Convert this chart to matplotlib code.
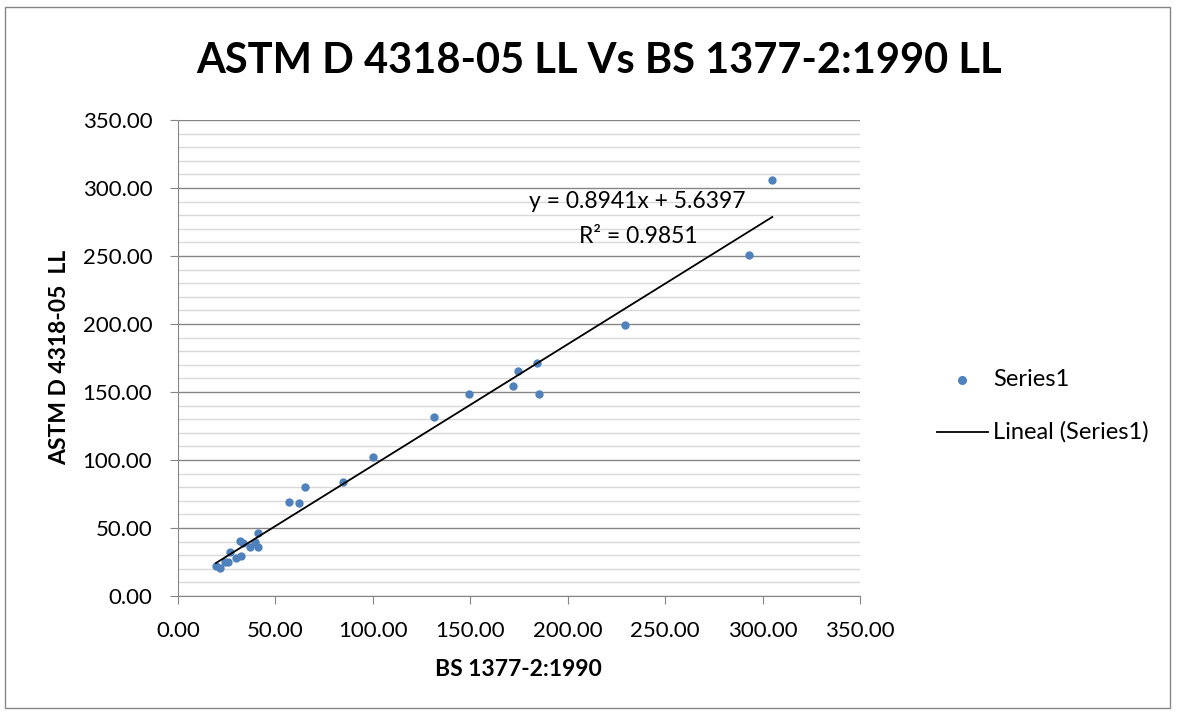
import numpy as np
import matplotlib
matplotlib.use("Agg")
import matplotlib.pyplot as plt
from matplotlib.patches import Rectangle
from matplotlib.lines import Line2D
from matplotlib.ticker import MultipleLocator, FormatStrFormatter

# Data
bs_ll = [19.5, 21.5, 24.0, 25.6, 26.9, 29.8, 32.4, 31.8, 33.4, 36.9, 39.6, 41.0, 41.0,
         57.1, 62.1, 65.0, 84.8, 99.9, 131.5, 149.5, 172.0, 174.6, 184.2, 185.4,
         229.2, 292.8, 305.0]
astm_ll = [22.0, 20.6, 25.0, 25.0, 32.4, 28.0, 29.3, 40.4, 39.0, 36.0, 39.7, 46.0, 36.0,
           69.4, 68.6, 80.4, 84.0, 102.5, 131.4, 148.5, 154.4, 165.4, 171.3, 148.3,
           199.3, 251.0, 305.9]
title = "ASTM D 4318-05 LL Vs BS 1377-2:1990 LL"
x_label = "BS 1377-2:1990"
y_label = "ASTM D 4318-05  LL"
eq_text = "y = 0.8941x + 5.6397"
r2_text = "R² = 0.9851"
legend_labels = ["Series1", "Lineal (Series1)"]

plt.rcParams['font.family'] = ['Lato', 'DejaVu Sans']

W, H = 1177, 715
fig = plt.figure(figsize=(W / 100, H / 100), dpi=100)
fig.patches.append(Rectangle((5 / W, 1 - 708 / H), 1165 / W, 701 / H, transform=fig.transFigure,
                             fill=False, edgecolor='#868686', linewidth=1))

ax = fig.add_axes([178 / W, 1 - 596 / H, 682 / W, 476 / H])
ax.set_xlim(0, 350)
ax.set_ylim(0, 350)

ax.yaxis.set_minor_locator(MultipleLocator(10))
ax.yaxis.set_major_locator(MultipleLocator(50))
ax.xaxis.set_major_locator(MultipleLocator(50))
ax.grid(which='minor', axis='y', color='#d9d9d9', linewidth=1)
ax.grid(which='major', axis='y', color='#868686', linewidth=1)
ax.set_axisbelow(True)
for s in ['top', 'right']:
    ax.spines[s].set_visible(False)
for s in ['left', 'bottom']:
    ax.spines[s].set_color('#868686')
ax.tick_params(which='major', direction='out', length=6, color='#868686', labelsize=16)
ax.tick_params(axis='y', which='major', pad=12.5)
ax.tick_params(axis='x', which='major', pad=12)
ax.tick_params(which='minor', length=0)
ax.xaxis.set_major_formatter(FormatStrFormatter('%.2f'))
ax.yaxis.set_major_formatter(FormatStrFormatter('%.2f'))

x = np.array(bs_ll)
y = np.array(astm_ll)
ax.scatter(x, y, s=36, color='#4f81bd', zorder=3, linewidths=0)
m, b = np.polyfit(x, y, 1)
xs = np.array([x.min(), x.max()])
ax.plot(xs, m * xs + b, color='black', linewidth=1.3, zorder=4)

fig.text(637 / W, 1 - 202 / H, eq_text, ha='center', va='center', fontsize=16.5)
fig.text(638 / W, 1 - 236 / H, r2_text, ha='center', va='center', fontsize=16.5)

fig.text(599 / W, 1 - 73 / H, title, ha='center', va='baseline', fontsize=30,
         fontweight='bold')
fig.text(518 / W, 1 - 670 / H, x_label, ha='center', va='center', fontsize=16.5,
         fontweight='bold')
fig.text(60 / W, 1 - 357 / H, y_label, ha='center', va='center', fontsize=16.5,
         fontweight='bold', rotation=90)

# Legend (drawn in figure coordinates)
fig.add_artist(Line2D([962 / W], [1 - 380 / H], marker='o', linestyle='none',
                      color='#4f81bd', markersize=5.5, transform=fig.transFigure))
fig.text(993 / W, 1 - 380 / H, legend_labels[0], ha='left', va='center', fontsize=17)
fig.add_artist(Line2D([937 / W, 988 / W], [1 - 432 / H, 1 - 432 / H], color='black',
                      linewidth=1.3, transform=fig.transFigure))
fig.text(993 / W, 1 - 432 / H, legend_labels[1], ha='left', va='center', fontsize=17)

fig.savefig('out.png', dpi=100)
